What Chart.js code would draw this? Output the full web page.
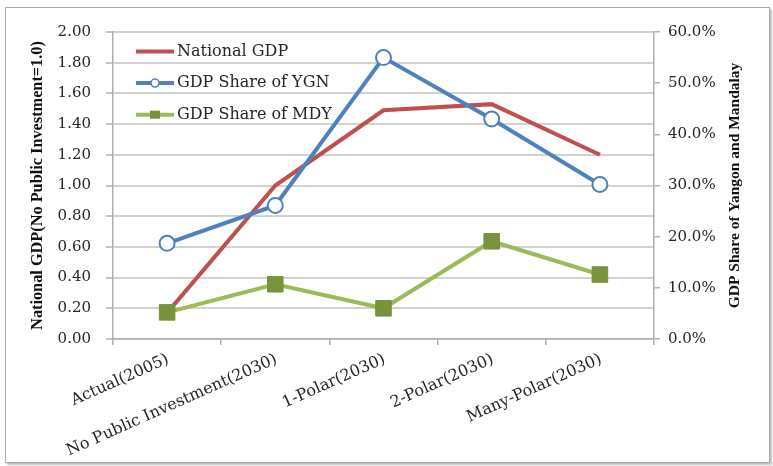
<!DOCTYPE html>
<html>
<head>
<meta charset="utf-8">
<script src="https://cdn.jsdelivr.net/npm/chart.js@4.4.1/dist/chart.umd.min.js"></script>
<style>
  html, body { margin: 0; padding: 0; background: #fff; }
  #frame {
    position: absolute; left: 5px; top: 7px;
    width: 763px; height: 454px;
    border: 1px solid #a8a8a8;
    box-shadow: 2px 2px 2px #bdbdbd;
    background: #fff;
  }
</style>
</head>
<body>
<div id="frame"><canvas id="gdpChart"></canvas></div>
<script>
// categories and series
const categories = ["Actual(2005)", "No Public Investment(2030)", "1-Polar(2030)", "2-Polar(2030)", "Many-Polar(2030)"];
const nationalGdp = [0.17, 1.00, 1.49, 1.53, 1.20];     // left axis
const ygnShare = [18.7, 26.1, 55.0, 43.0, 30.2];        // right axis, %
const mdyShare = [5.2, 10.7, 6.0, 19.1, 12.6];          // right axis, %

const leftTicks = { min: 0, max: 2, step: 0.2 };
const rightTicks = { min: 0, max: 60, step: 10 };

const leftTitle = "National GDP(No Public Investment=1.0)";
const rightTitle = "GDP Share of Yangon and Mandalay";

const textColor = "#262626";
const titleFont = "bold 15.5px 'Liberation Serif'";

// legend drawn inside the plot, like the excel original
const innerLegend = {
  id: "innerLegend",
  afterDraw(chart) {
    const ctx = chart.ctx;
    const area = chart.chartArea;
    const x0 = area.left + 23, x1 = area.left + 61;
    ctx.save();
    ctx.font = "16px 'DejaVu Serif'";
    ctx.textBaseline = "middle";
    chart.data.datasets.forEach((ds, i) => {
      const y = area.top + 19.5 + i * 31.6;
      ctx.strokeStyle = ds.borderColor;
      ctx.lineWidth = 4;
      ctx.beginPath();
      ctx.moveTo(x0, y);
      ctx.lineTo(x1, y);
      ctx.stroke();
      const mx = (x0 + x1) / 2;
      if (ds.pointStyle === "circle" && ds.pointRadius > 0) {
        ctx.fillStyle = "#fff";
        ctx.lineWidth = 1.5;
        ctx.beginPath();
        ctx.arc(mx, y, 4, 0, Math.PI * 2);
        ctx.fill();
        ctx.stroke();
      } else if (ds.pointStyle === "rect") {
        ctx.fillStyle = ds.pointBackgroundColor;
        ctx.fillRect(mx - 5, y - 4, 10, 8);
      }
      ctx.fillStyle = textColor;
      ctx.fillText(ds.label, x1 + 3, y);
    });
    ctx.restore();
  }
};

// right axis title reads bottom-to-top in the original, chart.js turns it the other way
const rightAxisTitle = {
  id: "rightAxisTitle",
  afterDraw(chart) {
    const s = chart.scales.y1;
    const ctx = chart.ctx;
    ctx.save();
    ctx.translate(s.right - 34, (s.top + s.bottom) / 2);
    ctx.rotate(-Math.PI / 2);
    ctx.font = titleFont;
    ctx.fillStyle = "#111";
    ctx.textAlign = "center";
    ctx.textBaseline = "middle";
    ctx.fillText(rightTitle, 0, 0);
    ctx.restore();
  }
};

new Chart(document.getElementById("gdpChart"), {
  type: "line",
  data: {
    labels: categories,
    datasets: [
      {
        label: "National GDP",
        data: nationalGdp,
        yAxisID: "y",
        borderColor: "#C0504D",
        borderWidth: 4,
        pointRadius: 0,
        pointStyle: false,
        tension: 0,
        order: 2
      },
      {
        label: "GDP Share of YGN",
        data: ygnShare,
        yAxisID: "y1",
        borderColor: "#4F81BD",
        borderWidth: 4,
        pointStyle: "circle",
        pointRadius: 7.5,
        pointBackgroundColor: "#ffffff",
        pointBorderColor: "#4F81BD",
        pointBorderWidth: 2,
        tension: 0,
        order: 1
      },
      {
        label: "GDP Share of MDY",
        data: mdyShare,
        yAxisID: "y1",
        borderColor: "#9BBB59",
        borderWidth: 4,
        pointStyle: "rect",
        pointRadius: 11,
        pointBackgroundColor: "#77933C",
        pointBorderColor: "#77933C",
        pointBorderWidth: 1,
        tension: 0,
        order: 0
      }
    ]
  },
  options: {
    responsive: true,
    maintainAspectRatio: false,
    animation: false,
    layout: { padding: { top: 15, left: 0, right: 0, bottom: 0 } },
    plugins: {
      legend: { display: false },
      tooltip: { enabled: false }
    },
    scales: {
      x: {
        offset: true,
        afterFit(scale) { scale.height = 123; },
        grid: { drawOnChartArea: false, offset: true, tickLength: 6, color: "#b0b0b0", lineWidth: 1.5 },
        border: { color: "#b0b0b0", width: 1.5 },
        ticks: {
          autoSkip: false,
          minRotation: 24,
          maxRotation: 24,
          padding: 5,
          labelOffset: 1,
          color: textColor,
          font: { family: "DejaVu Serif", size: 16 }
        }
      },
      y: {
        position: "left",
        min: leftTicks.min,
        max: leftTicks.max,
        afterFit(scale) { scale.width = 107; },
        grid: { color: "#d2d2d2", lineWidth: 2, tickLength: 7, tickColor: "#b0b0b0", tickWidth: 1.5 },
        border: { color: "#b0b0b0", width: 1.5 },
        ticks: {
          stepSize: leftTicks.step,
          padding: 15,
          color: textColor,
          font: { family: "DejaVu Serif", size: 15 },
          callback: v => v.toFixed(2)
        },
        title: {
          display: true,
          text: leftTitle,
          color: "#111",
          font: { family: "Liberation Serif", size: 16.3, weight: "bold" },
          padding: { top: 22, bottom: 0 }
        }
      },
      y1: {
        position: "right",
        min: rightTicks.min,
        max: rightTicks.max,
        afterFit(scale) { scale.width = 115; },
        grid: { drawOnChartArea: false, tickLength: 6, color: "#b0b0b0", lineWidth: 1.5 },
        border: { color: "#b0b0b0", width: 1.5 },
        ticks: {
          stepSize: rightTicks.step,
          padding: 8,
          color: textColor,
          font: { family: "DejaVu Serif", size: 15 },
          callback: v => v.toFixed(1) + "%"
        }
      }
    }
  },
  plugins: [innerLegend, rightAxisTitle]
});
</script>
</body>
</html>
